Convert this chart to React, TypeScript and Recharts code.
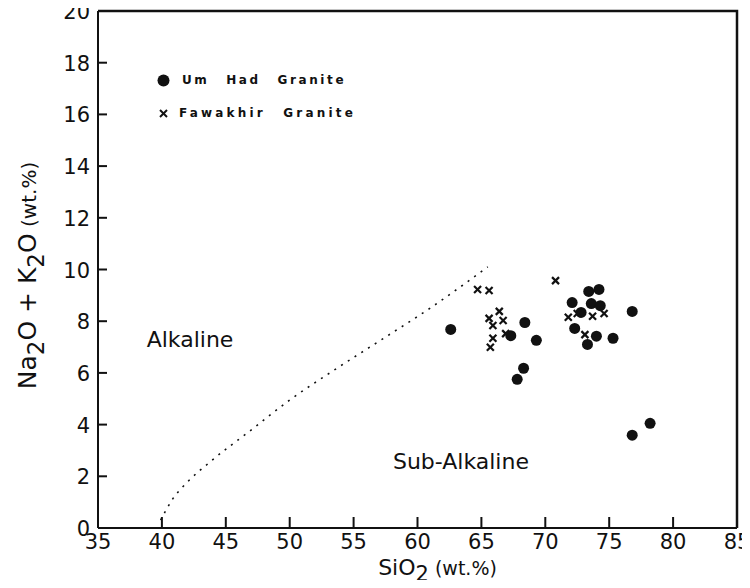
import {
  ComposedChart,
  Scatter,
  Line,
  XAxis,
  YAxis,
  ReferenceDot,
} from 'recharts';

const X_TICKS = [35, 40, 45, 50, 55, 60, 65, 70, 75, 80, 85];
const Y_TICKS = [0, 2, 4, 6, 8, 10, 12, 14, 16, 18, 20];
const X_DOMAIN = [35, 85];
const Y_DOMAIN = [0, 20];

// Um Had Granite (filled circles)
const UM_HAD_SIO2 = [62.6, 68.4, 67.3, 69.3, 68.3, 67.8, 72.1, 73.4, 74.2, 73.6, 74.3, 72.3, 74.0, 73.3, 75.3, 76.8, 72.8, 78.2, 76.8];
const UM_HAD_ALK = [7.68, 7.95, 7.44, 7.26, 6.18, 5.75, 8.72, 9.15, 9.23, 8.68, 8.6, 7.72, 7.42, 7.1, 7.34, 8.38, 8.34, 4.05, 3.59];

// Fawakhir Granite (crosses)
const FAWAKHIR_SIO2 = [64.7, 65.6, 70.8, 66.4, 65.6, 66.7, 65.9, 66.9, 65.9, 65.7, 71.8, 73.7, 74.6, 73.1, 72.5];
const FAWAKHIR_ALK = [9.23, 9.19, 9.57, 8.38, 8.11, 8.03, 7.83, 7.52, 7.34, 6.99, 8.15, 8.19, 8.3, 7.48, 8.3];

// Alkaline / sub-alkaline dividing line
const LINE_SIO2 = [39.9, 40.8, 42.0, 43.8, 46.9, 50.0, 53.7, 57.1, 61.0, 65.5];
const LINE_ALK = [0.3, 1.09, 1.78, 2.57, 3.76, 4.95, 6.18, 7.26, 8.51, 10.1];

const umHad = UM_HAD_SIO2.map((x, i) => ({ x, y: UM_HAD_ALK[i] }));
const fawakhir = FAWAKHIR_SIO2.map((x, i) => ({ x, y: FAWAKHIR_ALK[i] }));
const boundary = LINE_SIO2.map((x, i) => ({ x, y: LINE_ALK[i] }));

const INK = '#111';
const FONT = '"DejaVu Sans", sans-serif';

const W = 750;
const H = 588;
const MARGIN = { top: 11, right: 13, left: 0, bottom: 0 };
const Y_AXIS_W = 98;
const X_AXIS_H = 60;

function Dot(props: any) {
  const { cx, cy } = props;
  return <circle cx={cx} cy={cy} r={5.5} fill={INK} />;
}

function Cross(props: any) {
  const { cx, cy } = props;
  const s = 3.5;
  return (
    <g stroke={INK} strokeWidth={2.2}>
      <line x1={cx - s} y1={cy - s} x2={cx + s} y2={cy + s} />
      <line x1={cx - s} y1={cy + s} x2={cx + s} y2={cy - s} />
    </g>
  );
}

function XTick(props: any) {
  return (
    <text x={props.x} y={props.y + 17} textAnchor="middle" fill={INK} fontFamily={FONT} fontSize={21}>
      {props.payload.value}
    </text>
  );
}

function YTick(props: any) {
  return (
    <text x={props.x} y={props.y + 8} textAnchor="end" fill={INK} fontFamily={FONT} fontSize={21}>
      {props.payload.value}
    </text>
  );
}

function XLabel({ viewBox }: any) {
  const { x, y, width } = viewBox;
  return (
    <text x={x + width / 2 + 20} y={y + 47} textAnchor="middle" fill={INK} fontFamily={FONT} fontSize={22}>
      SiO<tspan fontSize={21} dy={6}>2</tspan>
      <tspan fontSize={19} dy={-6}> (wt.%)</tspan>
    </text>
  );
}

function YLabel({ viewBox }: any) {
  const { y, height } = viewBox;
  const cx = 36;
  const cy = y + height / 2 + 6;
  return (
    <text
      x={cx}
      y={cy}
      transform={`rotate(-90 ${cx} ${cy})`}
      textAnchor="middle"
      fill={INK}
      fontFamily={FONT}
      fontSize={25}
    >
      Na<tspan fontSize={23} dy={8}>2</tspan>
      <tspan dy={-8}>O + K</tspan>
      <tspan fontSize={23} dy={8}>2</tspan>
      <tspan dy={-8}>O</tspan>
      <tspan fontSize={20}> (wt.%)</tspan>
    </text>
  );
}

// box frame + inward tick marks, laid over the plot area
function Frame() {
  const left = MARGIN.left + Y_AXIS_W;
  const right = W - MARGIN.right;
  const top = MARGIN.top;
  const bottom = H - MARGIN.bottom - X_AXIS_H;
  const sx = (v: number) => left + ((v - X_DOMAIN[0]) / (X_DOMAIN[1] - X_DOMAIN[0])) * (right - left);
  const sy = (v: number) => bottom - ((v - Y_DOMAIN[0]) / (Y_DOMAIN[1] - Y_DOMAIN[0])) * (bottom - top);
  return (
    <svg width={W} height={H} style={{ position: 'absolute', left: 0, top: 0, pointerEvents: 'none' }}>
      <path d={`M${left},${top}H${right}V${bottom}`} stroke={INK} strokeWidth={2.5} fill="none" />
      {X_TICKS.slice(1, -1).map((v) => (
        <line key={`x${v}`} x1={sx(v)} y1={bottom} x2={sx(v)} y2={bottom - 11} stroke={INK} strokeWidth={2} />
      ))}
      {Y_TICKS.slice(1, -1).map((v) => (
        <line key={`y${v}`} x1={left} y1={sy(v)} x2={left + 9} y2={sy(v)} stroke={INK} strokeWidth={2} />
      ))}
    </svg>
  );
}

function LegendBox() {
  const row = { display: 'flex', alignItems: 'center', height: 20 } as const;
  const txt = {
    fontFamily: FONT,
    fontWeight: 700,
    fontSize: 12,
    letterSpacing: 2.6,
    wordSpacing: 10,
    color: INK,
    marginLeft: 9,
  } as const;
  return (
    <div style={{ position: 'absolute', left: 157, top: 70, lineHeight: 1 }}>
      <div style={row}>
        <svg width={13} height={13}>
          <circle cx={6.5} cy={6.5} r={6} fill={INK} />
        </svg>
        <span style={{ ...txt, marginLeft: 12 }}>Um Had Granite</span>
      </div>
      <div style={{ ...row, marginTop: 13 }}>
        <svg width={13} height={13}>
          <line x1={3} y1={3} x2={10} y2={10} stroke={INK} strokeWidth={2} />
          <line x1={3} y1={10} x2={10} y2={3} stroke={INK} strokeWidth={2} />
        </svg>
        <span style={{ ...txt, letterSpacing: 3.2 }}>Fawakhir Granite</span>
      </div>
    </div>
  );
}

function regionLabel(text: string) {
  return ({ viewBox }: any) => (
    <text
      x={viewBox.x + viewBox.width / 2}
      y={viewBox.y + viewBox.height / 2 + 8}
      textAnchor="middle"
      fill={INK}
      fontFamily={FONT}
      fontSize={22}
    >
      {text}
    </text>
  );
}

export default function App() {
  return (
    <div style={{ position: 'relative', margin: -8, width: W, height: H, background: '#fff' }}>
      <ComposedChart width={W} height={H} margin={MARGIN}>
        <XAxis
          type="number"
          dataKey="x"
          domain={X_DOMAIN}
          ticks={X_TICKS}
          interval={0}
          height={X_AXIS_H}
          stroke={INK}
          strokeWidth={2}
          tickLine={false}
          tickSize={0}
          tickMargin={4}
          tick={<XTick />}
          label={<XLabel />}
        />
        <YAxis
          type="number"
          dataKey="y"
          domain={Y_DOMAIN}
          ticks={Y_TICKS}
          interval={0}
          width={Y_AXIS_W}
          stroke={INK}
          strokeWidth={2}
          tickLine={false}
          tickSize={0}
          tickMargin={8}
          tick={<YTick />}
          label={<YLabel />}
        />
        <Line
          data={boundary}
          dataKey="y"
          type="monotone"
          stroke={INK}
          strokeWidth={1.6}
          strokeDasharray="2 6"
          dot={false}
          activeDot={false}
          isAnimationActive={false}
        />
        <Scatter data={umHad} shape={<Dot />} isAnimationActive={false} />
        <Scatter data={fawakhir} shape={<Cross />} isAnimationActive={false} />
        <ReferenceDot x={42.2} y={7.33} r={0} label={regionLabel('Alkaline')} />
        <ReferenceDot x={63.4} y={2.6} r={0} label={regionLabel('Sub-Alkaline')} />
      </ComposedChart>
      <Frame />
      <LegendBox />
    </div>
  );
}
